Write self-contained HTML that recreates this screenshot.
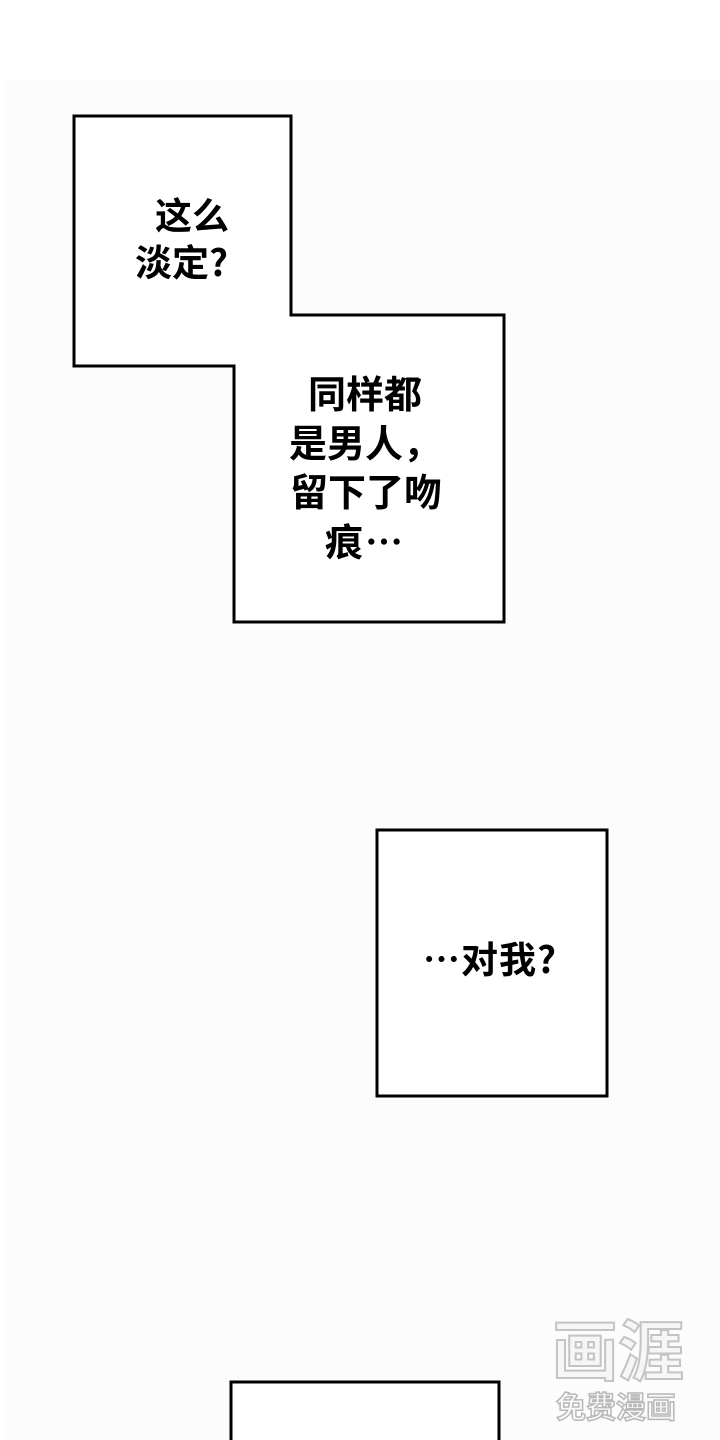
<!DOCTYPE html>
<html><head><meta charset="utf-8"><style>
html,body{margin:0;padding:0;background:#fff;}
svg{display:block}
text{font-family:"Noto Sans CJK SC","Liberation Sans",sans-serif;font-weight:bold;fill:#000;}
</style></head><body>
<svg width="720" height="1440" viewBox="0 0 720 1440" xmlns="http://www.w3.org/2000/svg">
<rect x="0" y="0" width="720" height="1440" fill="#ffffff"/>
<rect x="5" y="80" width="715" height="1360" fill="#fcfcfc"/>
<polygon points="74,116 291,116 291,315 504,315 504,622 234,622 234,366 74,366" fill="#fff" stroke="#000" stroke-width="3"/>
<text x="155" y="229" font-size="37">这么</text>
<text x="135" y="276" font-size="37">淡定?</text>
<text x="308" y="408" font-size="38">同样都</text>
<text x="289" y="457" font-size="38">是男人，</text>
<text x="290" y="506" font-size="38">留下了吻</text>
<text x="325" y="556" font-size="38" letter-spacing="2">痕…</text>
<rect x="377" y="830" width="230" height="266" fill="#fff" stroke="#000" stroke-width="3"/>
<text x="423" y="973" font-size="37" letter-spacing="1">…对我?</text>
<rect x="231" y="1382" width="268" height="80" fill="#fff" stroke="#000" stroke-width="3"/>
<g>
<text x="552" y="1375" font-size="66" style="fill:#f6f6f6;stroke:#c4c4c4;stroke-width:2">画涯</text>
<text x="556" y="1418" font-size="30" style="fill:#f8f8f8;stroke:#b8b8b8;stroke-width:1.5">免费漫画</text>
</g>
</svg>
</body></html>
